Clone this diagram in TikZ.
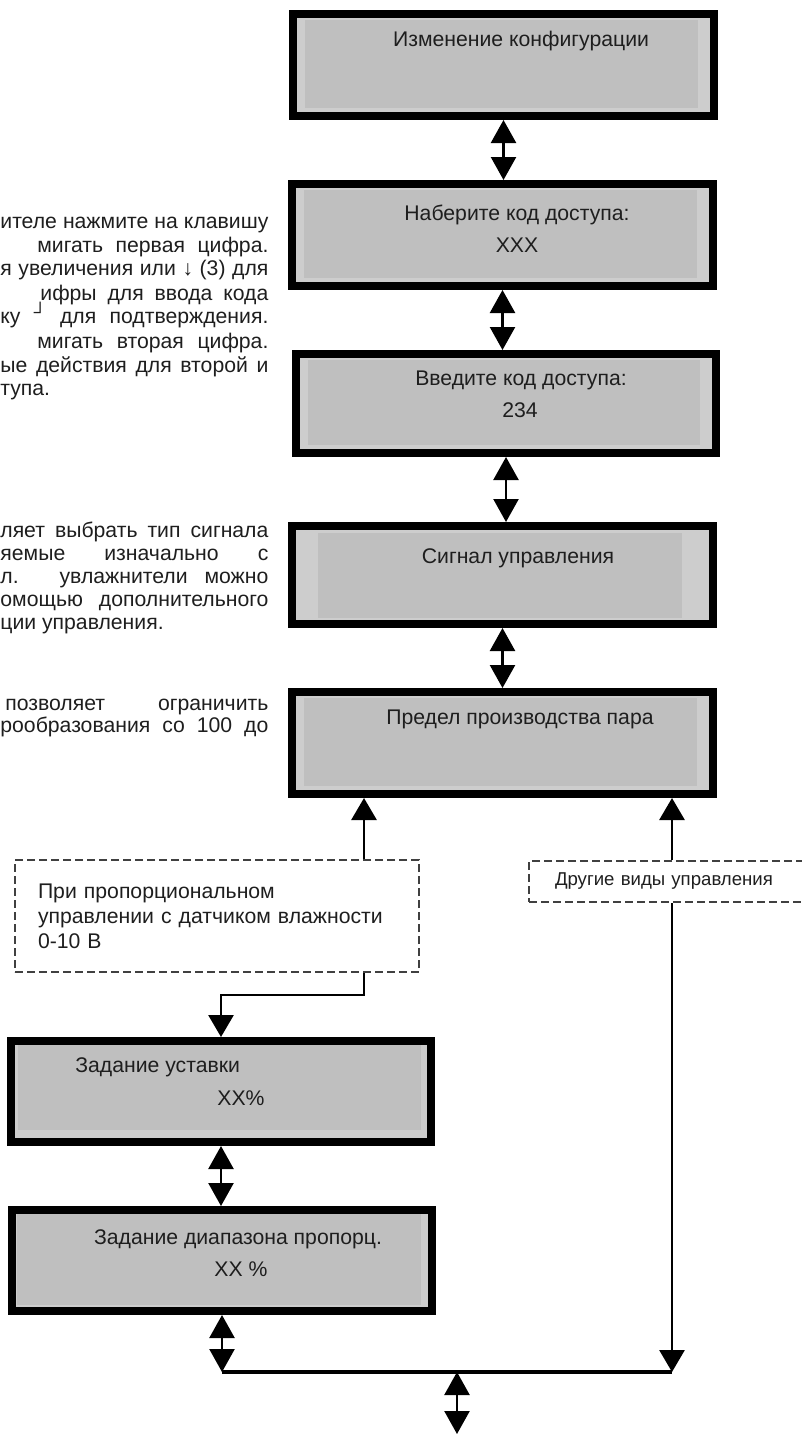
\documentclass[tikz,border=0pt]{standalone}
\usepackage{fontspec}
\setmainfont{Liberation Sans}
\usetikzlibrary{arrows.meta,positioning,calc}

\definecolor{lcdgray}{RGB}{191,191,191}
\definecolor{lcdlight}{RGB}{205,205,205}
\definecolor{inkgray}{RGB}{30,30,30}

\tikzset{
  lcdbox/.style={draw=black, line width=4pt, fill=lcdlight, minimum width=210.5pt, minimum height=51pt, inner sep=0pt},
  lcdinset/.style n args={4}{path picture={\fill[lcdgray] ([xshift=#1,yshift=-#3]path picture bounding box.north west) rectangle ([xshift=-#2,yshift=#4]path picture bounding box.south east);}},
  lcdtext/.style={anchor=base, inner sep=0pt, text=inkgray, font=\fontsize{10.6}{12.6}\selectfont},
  optbox/.style={draw=black!75, line width=1pt, dash pattern=on 4pt off 2pt, inner sep=0pt, text=inkgray, align=left},
  pline/.style={anchor=base west, inner sep=0pt, text=inkgray, font=\fontsize{10.6}{12}\selectfont},
  dbl/.style={line width=1.2pt, {Triangle[length=11.5pt,width=12.5pt]}-{Triangle[length=11.5pt,width=12.5pt]}},
  flow/.style={line width=1.4pt},
  flowend/.style={flow, -{Triangle[length=11pt,width=12.5pt]}},
}

\begin{document}
\begin{tikzpicture}[x=0.5pt, y=-0.5pt]
    \clip (0,0) rectangle (802,1434);

    % menu screens
    \node[lcdbox, lcdinset={6pt}{8pt}{3pt}{4pt}] (conf) at (503.5,65) {};
    \node[lcdbox, lcdinset={6pt}{8pt}{3pt}{4pt}] (code) at (502.5,235) {};
    \node[lcdbox, lcdinset={6pt}{8pt}{3pt}{4pt}, minimum width=210pt, minimum height=49.5pt] (pass) at (506,403.5) {};
    \node[lcdbox, lcdinset={13pt}{15.5pt}{3.5pt}{3pt}, minimum height=49pt] (signal) at (502.5,575) {};
    \node[lcdbox, lcdinset={6pt}{8pt}{3pt}{4pt}] (limit) at (502.5,743) {};
    \node[lcdbox, lcdinset={3.5pt}{5pt}{2pt}{6pt}, minimum width=210pt, minimum height=50.5pt] (setp) at (221,1091.5) {};
    \node[lcdbox, lcdinset={2.5pt}{5.5pt}{1.5pt}{3pt}, minimum width=210pt, minimum height=50.5pt] (band) at (222,1260.5) {};

    \node[lcdtext] (conft) at (521,47) {Изменение конфигурации};
    \node[lcdtext] (codet) at (517,220) {Наберите код доступа:};
    \node[lcdtext] (codev) at (517,252) {XXX};
    \node[lcdtext] (passt) at (521,385) {Введите код доступа:};
    \node[lcdtext] (passv) at (520,417) {234};
    \node[lcdtext] (signalt) at (518,563) {Сигнал управления};
    \node[lcdtext] (limitt) at (520,724) {Предел производства пара};
    \node[lcdtext, anchor=base west] (setpt) at (75,1072) {Задание уставки};
    \node[lcdtext] (setpv) at (241,1105) {XX\%};
    \node[lcdtext] (bandt) at (238,1244) {Задание диапазона пропорц.};
    \node[lcdtext] (bandv) at (241,1276) {XX \%};

    % cut-off description on the left
    \node[pline] (h1) at (0,228) {\makebox[134pt][s]{ителе нажмите на клавишу}};
    \node[pline] (h2) at (37,252) {\makebox[115.5pt][s]{мигать первая цифра.}};
    \node[pline] (h3) at (0,275) {\makebox[134pt][s]{я увеличения или ↓ (3) для}};
    \node[pline] (h4) at (40,300) {\makebox[114pt][s]{ифры для ввода кода}};
    \node[pline] (h5) at (0,323) {\makebox[134pt][s]{ку \raisebox{2.5pt}{\fontsize{9}{9}\selectfont ┘} для подтверждения.}};
    \node[pline] (h6) at (37,348) {\makebox[115.5pt][s]{мигать вторая цифра.}};
    \node[pline] (h7) at (0,372) {\makebox[134pt][s]{ые действия для второй и}};
    \node[pline] (h8) at (0,395) {тупа.};

    \node[pline] (s1) at (0,537) {\makebox[134pt][s]{ляет выбрать тип сигнала}};
    \node[pline] (s2) at (0,560) {\makebox[134pt][s]{яемые изначально с}};
    \node[pline] (s3) at (0,583) {\makebox[134pt][s]{л. увлажнители можно}};
    \node[pline] (s4) at (0,606) {\makebox[134pt][s]{омощью дополнительного}};
    \node[pline] (s5) at (0,629) {ции управления.};

    \node[pline] (l1) at (5,710) {\makebox[131.5pt][s]{позволяет ограничить}};
    \node[pline] (l2) at (0,732) {\makebox[134pt][s]{рообразования со 100 до}};

    % branches
    \node[optbox, minimum width=202pt, minimum height=56pt, text width=179pt, font=\fontsize{10.6}{12.5}\selectfont] (prop) at (217,916)
        {При пропорциональном\\управлении с датчиком влажности\\0-10 В};
    \node[optbox, minimum width=175.5pt, minimum height=20.5pt, text width=149.5pt, font=\fontsize{9.3}{11}\selectfont] (other) at (704.5,881.5)
        {Другие виды управления};

    \coordinate (lbr) at (364,0);
    \coordinate (rbr) at (672,0);
    \coordinate (join) at (457,1372);
    \coordinate (exit) at (457,1434);

    \draw[dbl] (conf.south) -- (conf.south |- code.north);
    \draw[dbl] (code.south) -- (code.south |- pass.north);
    \draw[dbl] (pass.south) -- (pass.south |- signal.north);
    \draw[dbl] (signal.south) -- (signal.south |- limit.north);

    \draw[flowend] (prop.north -| lbr) -- (limit.south -| lbr);
    \draw[flowend] (other.north -| rbr) -- (limit.south -| rbr);
    \draw[flowend] (prop.south -| lbr) -- ++(0,22) -| (setp.north);
    \draw[dbl] (setp.south) -- (setp.south |- band.north);
    \draw[dbl] (band.south) -- (band.south |- join);
    \draw[flowend] (other.south -| rbr) -- (join -| rbr);
    \draw[line width=2pt] (band.south |- join) -- (join -| rbr);
    \draw[dbl] (join) -- (exit);
\end{tikzpicture}
\end{document}
